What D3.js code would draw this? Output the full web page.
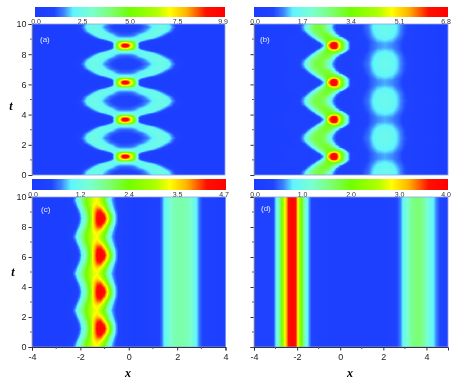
<!DOCTYPE html>
<html><head><meta charset="utf-8">
<script src="https://cdn.jsdelivr.net/npm/d3@7"></script>
<style>
html,body{margin:0;padding:0;background:#fff;width:463px;height:381px;overflow:hidden}
canvas,svg{position:absolute;left:0;top:0}
canvas{filter:blur(0.6px)}
</style></head><body>
<script>
// Colour bar: share of the bar -> colour
const colourStops = [0,0.1,0.15,0.2,0.3,0.4,0.5,0.64,0.71,0.8,0.9,1];
const colourNames = ["#1a3cff","#1f44ff","#3a80ff","#5ff5ff","#7affd0","#7cff70","#70ff00","#b0ff00","#ffff00","#ffb000","#ff1000","#ff0000"];
const tickLabelsA = ["0.0","2.5","5.0","7.5","9.9"];
const tickLabelsB = ["0.0","1.7","3.4","5.1","6.8"];
const tickLabelsC = ["0.0","1.2","2.4","3.5","4.7"];
const tickLabelsD = ["0.0","1.0","2.0","3.0","4.0"];
const maxA = 9.9, maxB = 6.8, maxC = 4.7, maxD = 4.0;
const peakTimes = [1.22,3.67,6.12,8.57];
const peakRowOffsets = [0,0.08,0.16,0.25,0.35,0.5,0.7,0.95,1.225];

// (a) nearly symmetric about x = -0.14: rows are profiles vs distance from that axis
const axisA = -0.14;
const rightShareA = 0.87;
const knotsA = [0,.1,.2,.3,.4,.5,.6,.8,1,1.2,1.4,1.6,1.8,2,2.3,2.7,3.85];
const rowsA = [
 [9.9,9.3,7.6,6.0,3.8,1.3,.6,.4,.4,.4,.4,.4,.4,.4,.3,.3,.2],
 [9.5,9.0,7.3,5.8,3.6,1.2,.6,.4,.4,.4,.4,.4,.4,.4,.3,.3,.2],
 [8.0,7.6,6.6,5.4,3.3,1.4,.8,.4,.4,.4,.4,.4,.4,.4,.3,.3,.2],
 [6.2,6.0,5.4,4.5,3.0,2.0,1.4,.7,.4,.4,.4,.4,.4,.4,.3,.3,.2],
 [3.4,3.3,3.0,2.8,2.5,2.4,2.2,1.5,.8,.45,.4,.4,.4,.4,.3,.3,.2],
 [1.9,1.9,1.9,2.0,2.1,2.2,2.3,2.4,2.1,1.3,.6,.4,.4,.4,.3,.3,.2],
 [1.2,1.2,1.25,1.35,1.6,1.9,2.1,2.4,2.5,2.3,1.5,.7,.45,.35,.3,.3,.2],
 [.95,.95,.95,1.0,1.05,1.15,1.3,1.85,2.3,2.6,2.4,1.7,.8,.45,.3,.3,.2],
 [.85,.85,.85,.85,.9,.95,1.05,1.4,2.0,2.4,2.5,2.1,1.2,.6,.4,.3,.2]
];

// (b)
const offsetsB = [0,.1,.2,.3,.45,.6,.8,1,1.225];
const knotsB = [-4,-2.4,-2.1,-1.9,-1.7,-1.5,-1.3,-1.1,-.95,-.8,-.7,-.6,-.45,-.3,-.15,0,.3,.7,.9,1.1,1.4,1.7,1.9,2.2,2.6,4];
const rowsB = [
 [.3,.4,.4,.4,.35,.4,.5,1.3,5.2,6.5,6.8,6.5,4.6,2.9,1.5,.6,.45,.7,.9,1.05,1.15,1.05,.9,.6,.45,.2],
 [.3,.4,.4,.4,.35,.4,.6,1.5,5.0,6.4,6.8,6.4,4.5,2.9,1.5,.6,.45,.7,.9,1.05,1.15,1.05,.9,.6,.45,.2],
 [.3,.4,.4,.4,.35,.5,.9,2.0,4.2,5.9,6.3,5.9,4.2,2.8,1.5,.6,.45,.7,.9,1.1,1.2,1.1,.9,.6,.45,.2],
 [.3,.4,.4,.4,.4,.6,1.4,2.7,3.4,4.5,5.0,4.7,3.6,2.5,1.2,.5,.45,.7,.95,1.2,1.3,1.2,.95,.6,.45,.2],
 [.3,.4,.4,.4,.5,1.1,2.3,3.1,3.2,3.3,3.3,3.1,2.5,1.3,.6,.45,.45,.75,1.05,1.3,1.42,1.3,1.05,.65,.45,.2],
 [.3,.4,.4,.4,.9,1.8,2.8,3.1,3.2,3.0,2.6,1.9,1.0,.6,.45,.45,.5,.8,1.15,1.42,1.55,1.42,1.15,.7,.45,.2],
 [.3,.35,.4,.7,1.5,2.6,3.0,3.1,3.0,2.3,1.6,1.0,.6,.45,.45,.45,.5,.85,1.25,1.5,1.62,1.5,1.25,.75,.45,.2],
 [.3,.35,.6,1.2,2.2,2.9,3.0,2.9,2.3,1.5,1.1,.7,.5,.45,.45,.45,.55,.9,1.3,1.55,1.65,1.55,1.3,.75,.45,.2],
 [.3,.3,.7,1.4,2.4,3.0,3.1,2.8,2.1,1.3,.9,.6,.45,.45,.45,.45,.55,.95,1.35,1.55,1.68,1.55,1.3,.8,.5,.2]
];

// (c)
const offsetsC = [0,.3,.6,.9,1.225];
const knotsC = [-4,-2.6,-2.4,-2.2,-2.05,-1.9,-1.75,-1.6,-1.45,-1.3,-1.15,-1,-.85,-.7,-.55,-.4,-.2,.2,.8,1.2,1.35,1.45,1.6,1.8,2.1,2.4,2.6,2.8,2.95,3.1,3.4,4];
const rowsC = [
 [.2,.2,.2,.25,.5,1.1,1.6,2.5,3.6,4.4,4.7,4.4,3.3,2.1,.9,.4,.3],
 [.2,.2,.2,.25,.6,1.2,1.8,2.6,3.6,4.3,4.5,4.0,3.0,1.8,.85,.4,.3],
 [.2,.2,.2,.35,.85,1.45,2.0,2.7,3.5,4.0,4.0,3.2,2.2,1.2,.65,.35,.3],
 [.2,.2,.25,.6,1.2,1.75,2.3,2.9,3.3,3.5,3.2,2.6,1.7,.95,.55,.35,.3],
 [.2,.2,.3,.85,1.4,1.9,2.4,2.9,3.2,3.3,2.9,2.2,1.4,.8,.5,.35,.3]
];
const tailC = [.2,.25,.35,.6,.9,1.2,1.5,1.6,1.55,1.4,.95,.6,.4,.3,.2];

// (d)
const knotsD = [-4,-3.3,-3.1,-2.98,-2.85,-2.71,-2.56,-2.4,-2.22,-2.05,-1.97,-1.79,-1.65,-1.51,-1.33,-1,0,2,2.5,2.68,2.8,2.9,3.05,3.3,3.55,3.8,4,4.15,4.32,4.5,4.63,5];
const profileD = [.3,.3,.4,.8,1.3,2.0,2.9,3.6,4.0,3.6,2.9,2.0,1.3,.8,.4,.25,.2,.2,.3,.45,.6,.8,1.1,1.45,1.6,1.5,1.25,1.0,.8,.55,.4,.3];

const W = 463, H = 381;
const cv = d3.select("body").append("canvas").attr("width",W).attr("height",H).node();
const ctx = cv.getContext("2d");
ctx.fillStyle="#fff";ctx.fillRect(0,0,W,H);
const svg = d3.select("body").append("svg").attr("width",W).attr("height",H);

const colourAt = max => d3.scaleLinear().domain(colourStops.map(s=>s*max)).range(colourNames).clamp(true);

// Field lookup: rows between offsets, profile along x
function makeField(knots, rows, offsets, mapX, periodic){
  const scales = rows.map(r=>d3.scaleLinear().domain(knots).range(r).clamp(true));
  return (x,t)=>{
    const X = mapX(x);
    if(!periodic) return scales[0](X);
    const dt = Math.abs(t - d3.least(peakTimes, p=>Math.abs(t-p)));
    const half = 1.225, d = dt>half ? 2*half-dt : dt;
    let i = Math.min(d3.bisectRight(offsets,d)-1, offsets.length-2);
    const w = Math.min(1,(d-offsets[i])/(offsets[i+1]-offsets[i]));
    return scales[i](X)*(1-w)+scales[i+1](X)*w;
  };
}
const fieldA = makeField(knotsA, rowsA, peakRowOffsets, x=>x<axisA?axisA-x:(x-axisA)*rightShareA, true);
const fieldB = makeField(knotsB, rowsB, offsetsB, x=>x, true);
const fieldC = makeField(knotsC, rowsC.map(r=>r.concat(tailC)), offsetsC, x=>x, true);
const fieldD = makeField(knotsD, [profileD], [0], x=>x, false);

const panels = [
 {id:"(a)",field:fieldA,max:maxA,ticks:tickLabelsA,L:32,R:225,T:24,B:175,x0:-4,x1:4,leftLab:true,botLab:false,
  bar:[35,225,7,17],lab:[40,42],barLabY:24,tt:[11,107]},
 {id:"(b)",field:fieldB,max:maxB,ticks:tickLabelsB,L:254,R:448,T:24,B:175,x0:-4,x1:4,leftLab:false,botLab:false,
  bar:[254,448,7,17],lab:[260,42],barLabY:24},
 {id:"(c)",field:fieldC,max:maxC,ticks:tickLabelsC,L:32,R:225.5,T:197,B:347,x0:-4,x1:4,leftLab:true,botLab:true,
  bar:[32,226,179,190],lab:[41,212],barLabY:197,tt:[13,273],xt:[128,377]},
 {id:"(d)",field:fieldD,max:maxD,ticks:tickLabelsD,L:254,R:448,T:197,B:347,x0:-4,x1:5,leftLab:false,botLab:true,
  bar:[254,448,179,190],lab:[261,211],barLabY:197,xt:[350,377]}
];

panels.forEach(p=>{
  const x = d3.scaleLinear().domain([p.x0,p.x1]).range([p.L,p.R]);
  const y = d3.scaleLinear().domain([0,10]).range([p.B,p.T]);
  const col = colourAt(p.max);
  for(let py=Math.floor(p.T);py<Math.ceil(p.B);py++){
    for(let px=Math.floor(p.L);px<Math.ceil(p.R);px++){
      ctx.fillStyle = col(p.field(x.invert(px+.5),y.invert(py+.5)));
      ctx.fillRect(px,py,1,1);
    }
  }
  // colour bar
  const cx = d3.scaleLinear().domain([0,p.max]).range([p.bar[0],p.bar[1]]);
  d3.range(p.bar[0],p.bar[1]).forEach(px=>{
    ctx.fillStyle = col(cx.invert(px+.5));
    ctx.fillRect(px,p.bar[2],1,p.bar[3]-p.bar[2]);
  });
  const g = svg.append("g");
  p.ticks.forEach((s,i)=>{
    const fx = p.bar[0]+(p.bar[1]-p.bar[0])*i/(p.ticks.length-1);
    g.append("text").attr("x",i==p.ticks.length-1?fx-2:fx+(i==0?1:0)).attr("y",p.barLabY)
     .attr("text-anchor","middle").attr("font-family","Liberation Sans").attr("font-size",7).attr("fill","#333").text(s);
  });
  // axes
  const ax = d3.axisLeft(y).tickValues(d3.range(0,11,2)).tickSize(3.5).tickPadding(2);
  const axG = g.append("g").attr("transform",`translate(${p.L},0)`).call(ax);
  axG.selectAll("text").attr("font-family","Liberation Sans").attr("font-size",9).attr("fill","#222");
  if(!p.leftLab) axG.selectAll("text").remove();
  axG.select(".domain").attr("stroke","#556");
  axG.selectAll(".tick line").attr("stroke","#333");
  g.selectAll(null).data(d3.range(1,10,2)).join("line")
    .attr("x1",p.L).attr("x2",p.L-2).attr("y1",d=>y(d)).attr("y2",d=>y(d)).attr("stroke","#555");
  // frame
  g.append("rect").attr("x",p.L).attr("y",p.T).attr("width",p.R-p.L).attr("height",p.B-p.T)
    .attr("fill","none").attr("stroke","#8fa3e8").attr("stroke-width",.8);
  if(p.botLab){
    const bx = d3.axisBottom(x).tickValues(d3.range(-4,p.x1+.1,2)).tickFormat(d=>String(d)).tickSize(3.5).tickPadding(3);
    const bg = g.append("g").attr("transform",`translate(0,${p.B})`).call(bx);
    bg.selectAll("text").attr("font-family","Liberation Sans").attr("font-size",9).attr("fill","#222");
    bg.select(".domain").attr("stroke","#334");
    bg.selectAll(".tick line").attr("stroke","#333");
    g.selectAll(null).data(d3.range(-3,p.x1,2)).join("line")
      .attr("y1",p.B).attr("y2",p.B+2).attr("x1",d=>x(d)).attr("x2",d=>x(d)).attr("stroke","#555");
  }
  g.append("text").attr("x",p.lab[0]).attr("y",p.lab[1]).attr("font-family","Liberation Sans").attr("font-size",8)
    .attr("fill","#e4ecff").text(p.id);
  if(p.tt) g.append("text").attr("x",p.tt[0]).attr("y",p.tt[1]+3).attr("text-anchor","middle")
    .attr("font-family","Liberation Serif").attr("font-size",12).attr("font-weight","bold").attr("font-style","italic").text("t");
  if(p.xt) g.append("text").attr("x",p.xt[0]).attr("y",p.xt[1]).attr("text-anchor","middle")
    .attr("font-family","Liberation Serif").attr("font-size",12).attr("font-weight","bold").attr("font-style","italic").text("x");
});
</script></body></html>
